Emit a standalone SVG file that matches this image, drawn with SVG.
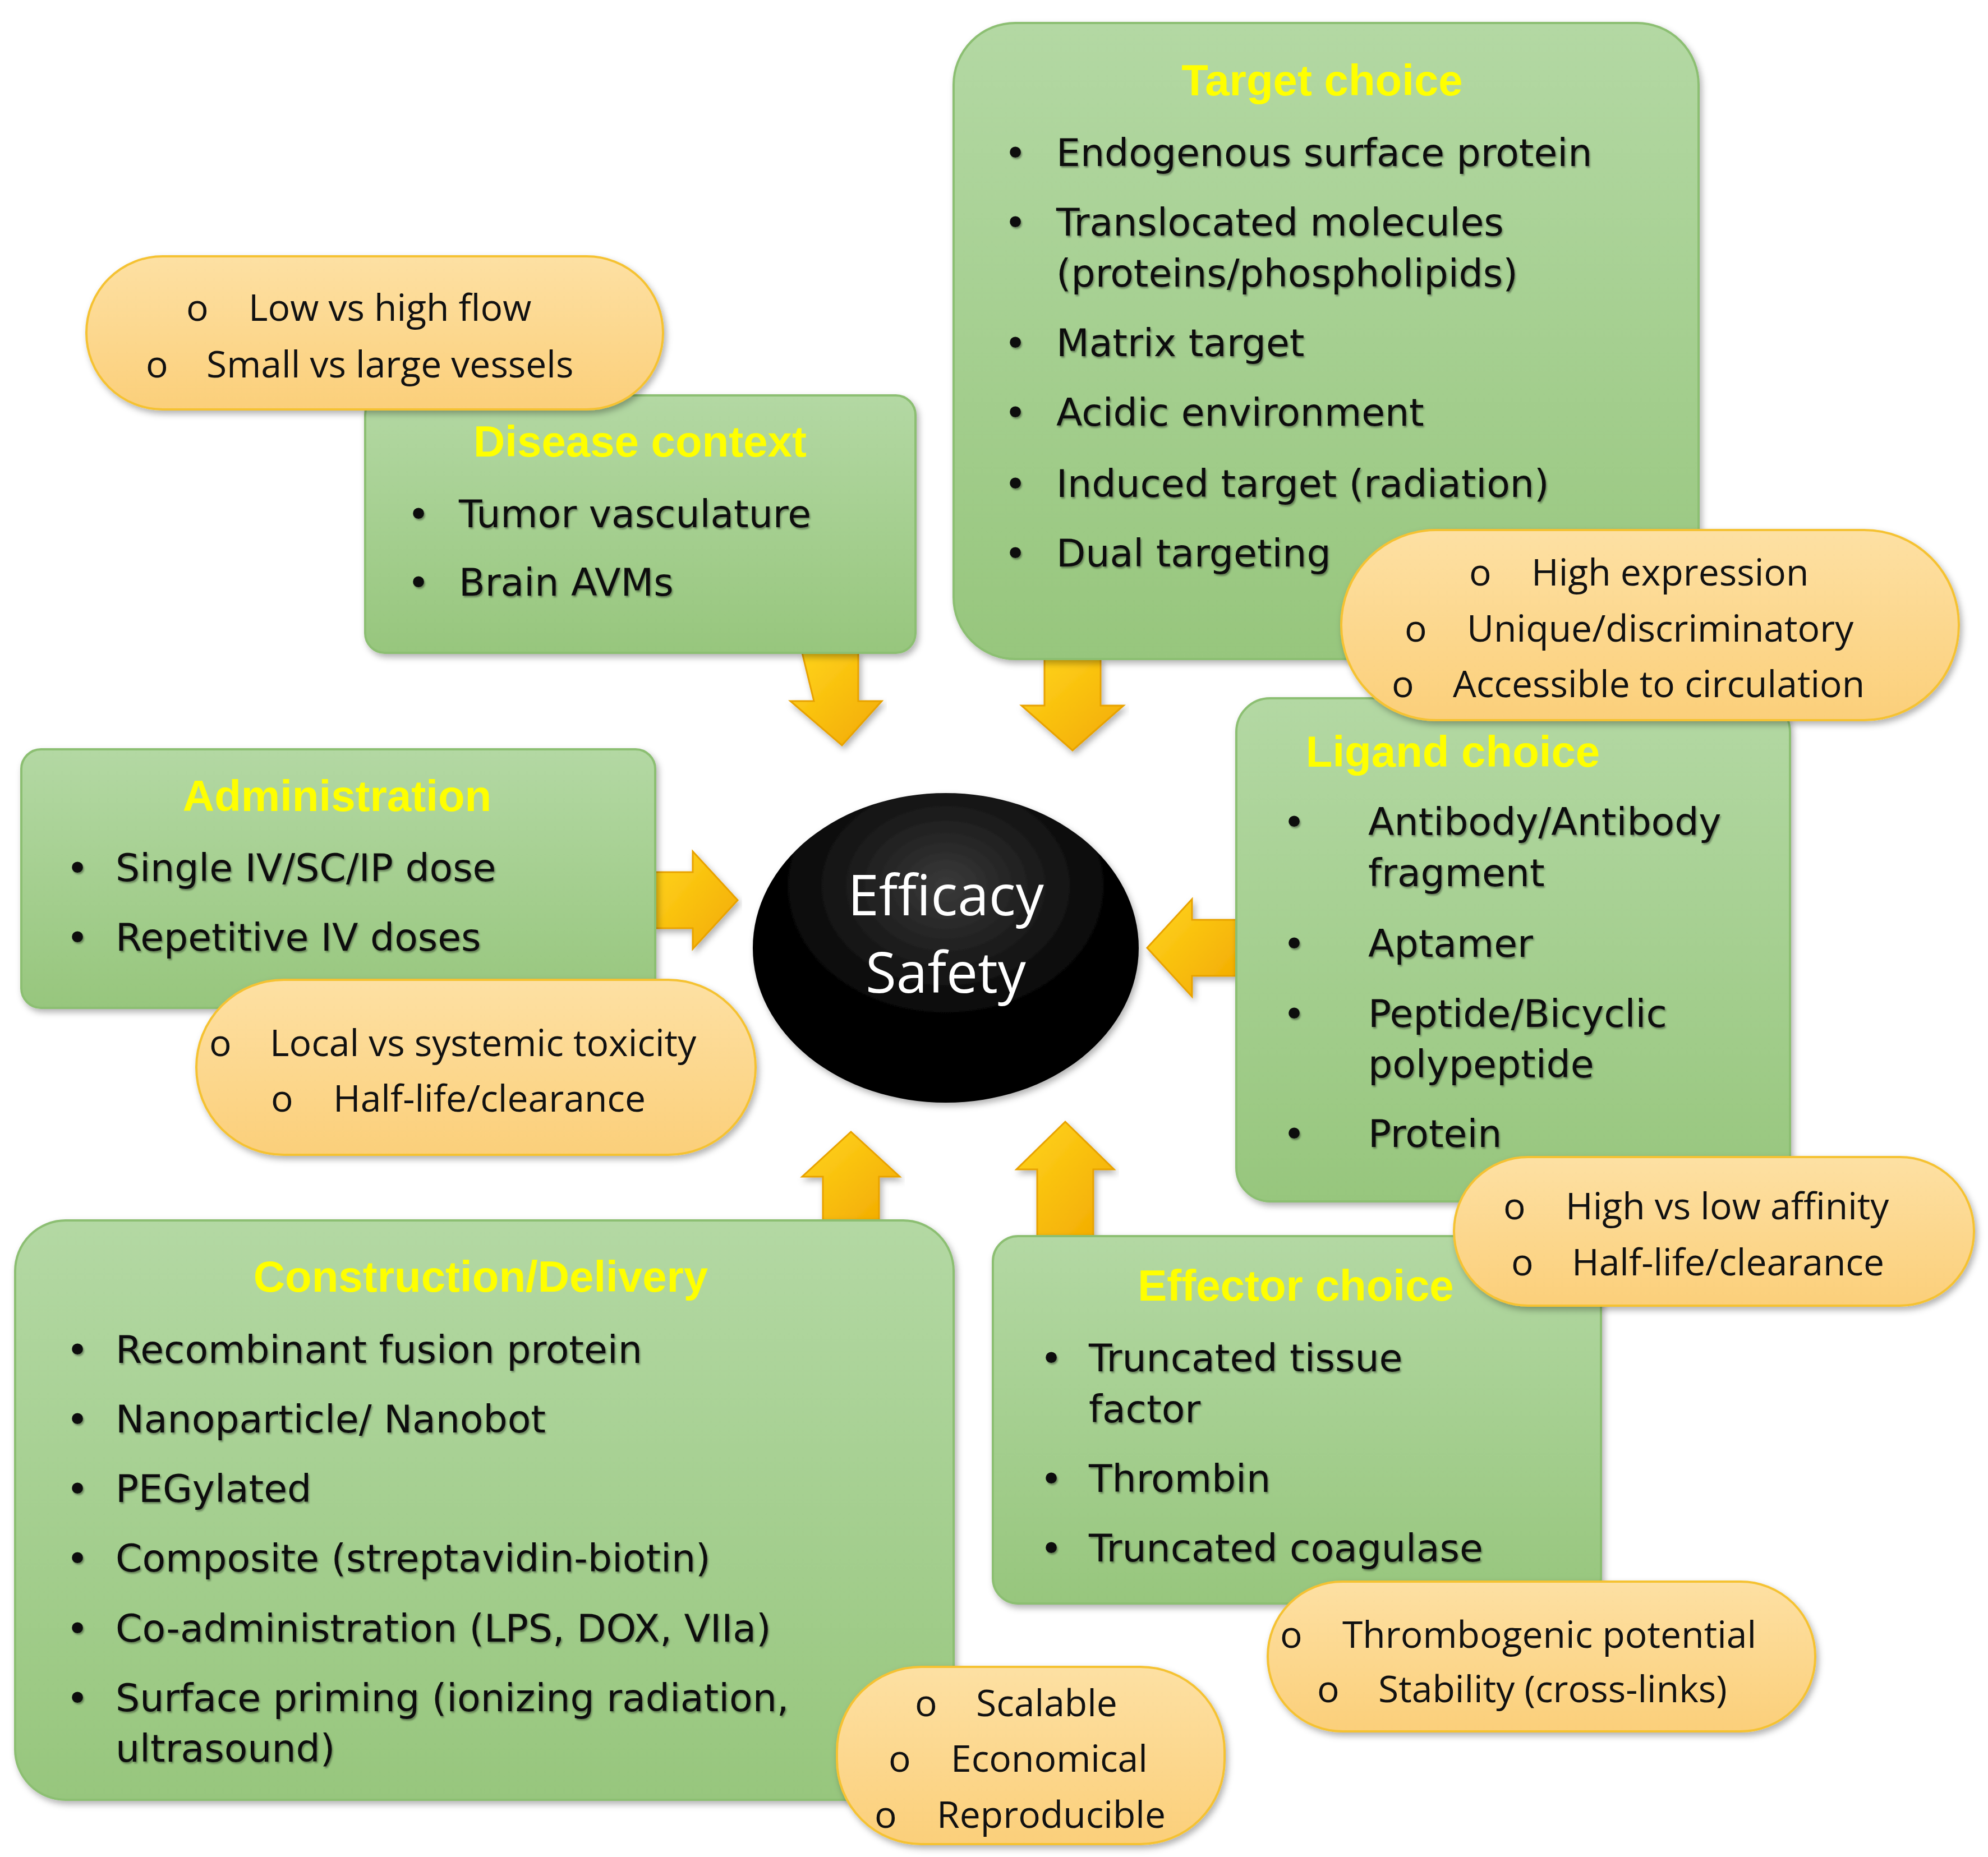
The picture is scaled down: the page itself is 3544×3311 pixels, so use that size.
<svg xmlns="http://www.w3.org/2000/svg" width="3544" height="3311" viewBox="0 0 3544 3311">
<defs>
<linearGradient id="g" x1="0" y1="0" x2="0" y2="1"><stop offset="0" stop-color="#b3d8a3"/><stop offset="1" stop-color="#97c67d"/></linearGradient>
<linearGradient id="o" x1="0" y1="0" x2="0" y2="1"><stop offset="0" stop-color="#fde0a3"/><stop offset="1" stop-color="#fbcf7a"/></linearGradient>
<linearGradient id="a" x1="0" y1="0" x2="1" y2="1"><stop offset="0" stop-color="#ffd51c"/><stop offset="1" stop-color="#f2a900"/></linearGradient>
<radialGradient id="e" cx="0.5" cy="0.3" r="0.7"><stop offset="0" stop-color="#3a3a3a"/><stop offset="0.6" stop-color="#050505"/><stop offset="1" stop-color="#000"/></radialGradient>
<filter id="sh" x="-5%" y="-5%" width="110%" height="115%"><feDropShadow dx="4" dy="6" stdDeviation="6" flood-opacity="0.3"/></filter>
<filter id="ts"><feDropShadow dx="2" dy="3" stdDeviation="1.5" flood-color="#000" flood-opacity="0.35"/></filter>
</defs>
<style>
.box{fill:url(#g);stroke:#8cbf72;stroke-width:4;filter:url(#sh)}
.pill{fill:url(#o);stroke:#f5c233;stroke-width:4;filter:url(#sh)}
.arr{fill:url(#a);stroke:#e8a200;stroke-width:3;filter:url(#sh)}
.t{font-family:"Liberation Sans",Arial,sans-serif;font-weight:bold;font-size:78px;fill:#ffff00;text-anchor:middle}
.b{font-family:"DejaVu Sans",Verdana,sans-serif;font-size:68px;fill:#111;filter:url(#ts)}
.p{font-family:"Open Sans","Liberation Sans",sans-serif;font-size:66px;fill:#111}
.c{font-family:"Open Sans","Liberation Sans",sans-serif;font-size:100px;fill:#fff;text-anchor:middle}
</style>
<rect width="3544" height="3311" fill="#fff"/>
<g id="connectors">
<polygon class="arr" points="1440,1164 1540,1164 1540,1250 1582,1250 1511,1329 1419,1250 1461,1250" transform="translate(-10,0)"/>
<polygon class="arr" points="1862,1175 1962,1175 1962,1258 2003,1258 1912,1338 1821,1258 1862,1258"/>
<polygon class="arr" points="1168,1555 1235,1555 1235,1518 1315,1605 1235,1692 1235,1655 1168,1655"/>
<polygon class="arr" points="2204,1640 2125,1640 2125,1603 2045,1690 2125,1777 2125,1740 2204,1740"/>
<polygon class="arr" points="1467,2176 1467,2098 1430,2098 1517,2018 1604,2098 1567,2098 1567,2176"/>
<polygon class="arr" points="1849,2204 1849,2085 1812,2085 1899,2000 1986,2085 1949,2085 1949,2204"/>
</g>
<g id="target"><rect class="box" x="1700" y="41" width="1328" height="1134" rx="110"/>
<text class="t" x="2357" y="170">Target choice</text>
<g class="b"><text x="1790" y="296">•</text><text x="1883" y="296">Endogenous surface protein</text>
<text x="1790" y="420">•</text><text x="1883" y="420">Translocated molecules</text><text x="1883" y="511">(proteins/phospholipids)</text>
<text x="1790" y="635">•</text><text x="1883" y="635">Matrix target</text>
<text x="1790" y="759">•</text><text x="1883" y="759">Acidic environment</text>
<text x="1790" y="886">•</text><text x="1883" y="886">Induced target (radiation)</text>
<text x="1790" y="1010">•</text><text x="1883" y="1010">Dual targeting</text></g></g>
<g id="disease"><rect class="box" x="651" y="705" width="981" height="459" rx="35"/>
<text class="t" x="1141" y="814">Disease context</text>
<g class="b"><text x="726" y="940">•</text><text x="818" y="940">Tumor  vasculature</text>
<text x="726" y="1062">•</text><text x="818" y="1062">Brain AVMs</text></g></g>
<g id="admin"><rect class="box" x="38" y="1336" width="1130" height="461" rx="35"/>
<text class="t" x="601" y="1446">Administration</text>
<g class="b"><text x="118" y="1571">•</text><text x="206" y="1571">Single IV/SC/IP dose</text>
<text x="118" y="1695">•</text><text x="206" y="1695">Repetitive IV doses</text></g></g>
<g id="ligand"><rect class="box" x="2204" y="1245" width="987" height="897" rx="60"/>
<text class="t" x="2590" y="1367">Ligand choice</text>
<g class="b"><text x="2287" y="1489">•</text><text x="2439" y="1489">Antibody/Antibody</text><text x="2439" y="1580">fragment</text>
<text x="2287" y="1706">•</text><text x="2439" y="1706">Aptamer</text>
<text x="2287" y="1831">•</text><text x="2439" y="1831">Peptide/Bicyclic</text><text x="2439" y="1921">polypeptide</text>
<text x="2287" y="2045">•</text><text x="2439" y="2045">Protein</text></g></g>
<g id="construction"><rect class="box" x="27" y="2176" width="1673" height="1033" rx="90"/>
<text class="t" x="857" y="2303">Construction/Delivery</text>
<g class="b"><text x="118" y="2430">•</text><text x="206" y="2430">Recombinant fusion protein</text>
<text x="118" y="2554">•</text><text x="206" y="2554">Nanoparticle/ Nanobot</text>
<text x="118" y="2678">•</text><text x="206" y="2678">PEGylated</text>
<text x="118" y="2802">•</text><text x="206" y="2802">Composite (streptavidin-biotin)</text>
<text x="118" y="2927">•</text><text x="206" y="2927">Co-administration (LPS, DOX, VIIa)</text>
<text x="118" y="3051">•</text><text x="206" y="3051">Surface priming  (ionizing radiation,</text><text x="206" y="3141">ultrasound)</text></g></g>
<g id="effector"><rect class="box" x="1770" y="2204" width="1084" height="655" rx="45"/>
<text class="t" x="2310" y="2319">Effector choice</text>
<g class="b"><text x="1854" y="2445">•</text><text x="1941" y="2445">Truncated tissue</text><text x="1941" y="2536">factor</text>
<text x="1854" y="2660">•</text><text x="1941" y="2660">Thrombin</text>
<text x="1854" y="2784">•</text><text x="1941" y="2784">Truncated coagulase</text></g></g>
<g id="center"><ellipse cx="1686" cy="1690" rx="344" ry="276" fill="url(#e)" filter="url(#sh)"/>
<text class="c" x="1686" y="1632">Efficacy</text><text class="c" x="1686" y="1770">Safety</text></g>
<g id="pill1"><rect class="pill" x="154" y="457" width="1028" height="273" rx="136"/>
<g class="p"><text x="332" y="572">o</text><text x="443" y="572">Low vs high flow</text><text x="260" y="673">o</text><text x="368" y="673">Small vs large vessels</text></g></g>
<g id="pill2"><rect class="pill" x="2391" y="945" width="1101" height="339" rx="169"/>
<g class="p"><text x="2619" y="1044">o</text><text x="2730" y="1044">High expression</text>
<text x="2504" y="1144">o</text><text x="2615" y="1144">Unique/discriminatory</text>
<text x="2481" y="1243">o</text><text x="2590" y="1243">Accessible to circulation</text></g></g>
<g id="pill3"><rect class="pill" x="350" y="1747" width="997" height="312" rx="156"/>
<g class="p"><text x="373" y="1883">o</text><text x="481" y="1883">Local vs systemic toxicity</text>
<text x="483" y="1982">o</text><text x="594" y="1982">Half-life/clearance</text></g></g>
<g id="pill4"><rect class="pill" x="2592" y="2063" width="927" height="265" rx="132"/>
<g class="p"><text x="2680" y="2174">o</text><text x="2791" y="2174">High vs low affinity</text>
<text x="2694" y="2274">o</text><text x="2802" y="2274">Half-life/clearance</text></g></g>
<g id="pill5"><rect class="pill" x="2260" y="2820" width="976" height="267" rx="133"/>
<g class="p"><text x="2282" y="2938">o</text><text x="2393" y="2938">Thrombogenic potential</text>
<text x="2348" y="3035">o</text><text x="2457" y="3035">Stability (cross-links)</text></g></g>
<g id="pill6"><rect class="pill" x="1492" y="2972" width="691" height="316" rx="150"/>
<g class="p"><text x="1631" y="3060">o</text><text x="1740" y="3060">Scalable</text>
<text x="1584" y="3159">o</text><text x="1695" y="3159">Economical</text>
<text x="1559" y="3259">o</text><text x="1670" y="3259">Reproducible</text></g></g>
</svg>
